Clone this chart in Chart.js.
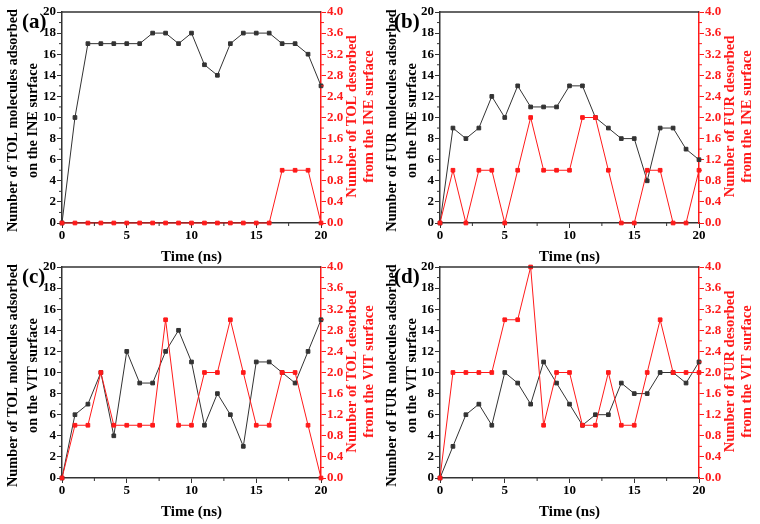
<!DOCTYPE html>
<html>
<head>
<meta charset="utf-8">
<script src="https://cdn.jsdelivr.net/npm/chart.js@4/dist/chart.umd.min.js"></script>
<style>
  html, body { margin: 0; padding: 0; background: #ffffff; }
  body { width: 760px; height: 524px; position: relative; overflow: hidden; }
  canvas { position: absolute; }
</style>
</head>
<body>
<canvas id="ca" width="380" height="266" style="left:0px;top:0px"></canvas>
<canvas id="cb" width="380" height="266" style="left:380px;top:0px"></canvas>
<canvas id="cc" width="380" height="268" style="left:0px;top:256px"></canvas>
<canvas id="cd" width="380" height="268" style="left:380px;top:256px"></canvas>
<script>
// ---- data ----
const time = [0,1,2,3,4,5,6,7,8,9,10,11,12,13,14,15,16,17,18,19,20];

const tolIneAdsorbed = [0,10,17,17,17,17,17,18,18,17,18,15,14,17,18,18,18,17,17,16,13];
const tolIneDesorbed = [0,0,0,0,0,0,0,0,0,0,0,0,0,0,0,0,0,1,1,1,0];

const furIneAdsorbed = [0,9,8,9,12,10,13,11,11,11,13,13,10,9,8,8,4,9,9,7,6];
const furIneDesorbed = [0,1,0,1,1,0,1,2,1,1,1,2,2,1,0,0,1,1,0,0,1];

const tolVitAdsorbed = [0,6,7,10,4,12,9,9,12,14,11,5,8,6,3,11,11,10,9,12,15];
const tolVitDesorbed = [0,1,1,2,1,1,1,1,3,1,1,2,2,3,2,1,1,2,2,1,0];

const furVitAdsorbed = [0,3,6,7,5,10,9,7,11,9,7,5,6,6,9,8,8,10,10,9,11];
const furVitDesorbed = [0,2,2,2,2,3,3,4,1,2,2,1,1,2,1,1,2,3,2,2,2];

const xTicks = [0,5,10,15,20];
const leftTicks = [0,2,4,6,8,10,12,14,16,18,20];
const rightTicks = [0.0,0.4,0.8,1.2,1.6,2.0,2.4,2.8,3.2,3.6,4.0];
const xTitle = 'Time (ns)';

// ---- styling ----
const DARK = '#333333';
const RED = '#ff1a1a';
const FONT = '"Liberation Serif", "Times New Roman", serif';

function pairs(xs, ys) { return xs.map((x, i) => ({ x: x, y: ys[i] })); }

function makePanel(id, cfg) {
  const annot = {
    id: 'annot',
    afterDraw(chart) {
      const ctx = chart.ctx;
      const a = chart.chartArea;
      const xs = chart.scales.x, yl = chart.scales.y, yr = chart.scales.y1;
      ctx.save();
      // top frame line
      ctx.strokeStyle = DARK;
      ctx.lineWidth = 1.5;
      ctx.beginPath();
      ctx.moveTo(a.left, a.top);
      ctx.lineTo(a.right, a.top);
      ctx.stroke();
      // minor ticks
      ctx.lineWidth = 1;
      ctx.strokeStyle = DARK;
      for (let v = 1; v < 20; v += 2) {
        const p = yl.getPixelForValue(v);
        ctx.beginPath(); ctx.moveTo(a.left - 3, p); ctx.lineTo(a.left, p); ctx.stroke();
      }
      for (let v = 2.5; v < 20; v += 5) {
        const p = xs.getPixelForValue(v);
        ctx.beginPath(); ctx.moveTo(p, a.bottom); ctx.lineTo(p, a.bottom + 3); ctx.stroke();
      }
      ctx.strokeStyle = RED;
      for (let k = 0; k < 10; k++) {
        const p = yr.getPixelForValue(0.2 + 0.4 * k);
        ctx.beginPath(); ctx.moveTo(a.right, p); ctx.lineTo(a.right + 3, p); ctx.stroke();
      }
      // left title
      ctx.textAlign = 'center';
      ctx.textBaseline = 'middle';
      ctx.font = 'bold 14.3px ' + FONT;
      ctx.fillStyle = '#000000';
      const cy = (a.top + a.bottom) / 2 + 3;
      cfg.leftTitle.forEach((t, i) => {
        ctx.save();
        ctx.translate(cfg.leftTitleX[i], cy);
        ctx.rotate(-Math.PI / 2);
        ctx.fillText(t, 0, 0);
        ctx.restore();
      });
      // right title
      ctx.fillStyle = RED;
      ctx.font = 'bold 14.6px ' + FONT;
      const cyr = (a.top + a.bottom) / 2 - 1;
      cfg.rightTitle.forEach((t, i) => {
        ctx.save();
        ctx.translate(a.right + cfg.rightTitleDX[i], cyr);
        ctx.rotate(-Math.PI / 2);
        ctx.fillText(t, 0, 0);
        ctx.restore();
      });
      // x title
      ctx.fillStyle = '#000000';
      ctx.font = 'bold 15px ' + FONT;
      ctx.fillText(xTitle, (a.left + a.right) / 2, a.bottom + 34);
      // panel label
      ctx.font = 'bold 21px ' + FONT;
      ctx.textAlign = 'left';
      ctx.textBaseline = 'alphabetic';
      ctx.fillText(cfg.label, cfg.labelX, a.top + 16);
      ctx.restore();
    }
  };

  new Chart(document.getElementById(id), {
    type: 'line',
    data: {
      datasets: [
        {
          data: pairs(time, cfg.desorbed),
          yAxisID: 'y1',
          borderColor: RED,
          backgroundColor: RED,
          pointBackgroundColor: RED,
          pointBorderColor: RED,
          borderWidth: 1,
          pointStyle: 'rect',
          pointRadius: 2.6,
          pointBorderWidth: 1,
          tension: 0,
          clip: false
        },
        {
          data: pairs(time, cfg.adsorbed),
          yAxisID: 'y',
          borderColor: DARK,
          backgroundColor: DARK,
          pointBackgroundColor: DARK,
          pointBorderColor: DARK,
          borderWidth: 1,
          pointStyle: 'rect',
          pointRadius: 2.6,
          pointBorderWidth: 1,
          tension: 0,
          clip: false
        }
      ]
    },
    options: {
      responsive: false,
      animation: false,
      devicePixelRatio: 1,
      layout: { padding: { top: cfg.T, left: 0, right: 0, bottom: 0 } },
      plugins: { legend: { display: false }, tooltip: { enabled: false } },
      scales: {
        x: {
          type: 'linear',
          min: 0, max: 20,
          afterBuildTicks(s) { s.ticks = xTicks.map(v => ({ value: v })); },
          afterFit(s) { s.height = cfg.B; },
          border: { display: true, color: DARK, width: 1.5 },
          grid: { drawOnChartArea: false, drawTicks: true, tickLength: 5, color: DARK, lineWidth: 1 },
          ticks: { color: '#000000', font: { family: FONT, size: 13, weight: 'bold' }, padding: 0, maxRotation: 0 }
        },
        y: {
          position: 'left',
          min: 0, max: 20,
          afterBuildTicks(s) { s.ticks = leftTicks.map(v => ({ value: v })); },
          afterFit(s) { s.width = cfg.L; },
          border: { display: true, color: DARK, width: 1.5 },
          grid: { drawOnChartArea: false, drawTicks: true, tickLength: 5, color: DARK, lineWidth: 1 },
          ticks: { color: '#000000', font: { family: FONT, size: 13, weight: 'bold' }, padding: 1 }
        },
        y1: {
          position: 'right',
          min: 0, max: 4,
          afterBuildTicks(s) { s.ticks = rightTicks.map(v => ({ value: v })); },
          afterFit(s) { s.width = cfg.R; },
          border: { display: true, color: RED, width: 1.5 },
          grid: { drawOnChartArea: false, drawTicks: true, tickLength: 5, color: RED, lineWidth: 1 },
          ticks: {
            color: RED, font: { family: FONT, size: 13, weight: 'bold' }, padding: 1,
            callback: v => Number(v).toFixed(1)
          }
        }
      }
    },
    plugins: [annot]
  });
}

makePanel('ca', {
  adsorbed: tolIneAdsorbed, desorbed: tolIneDesorbed,
  leftTitle: ['Number of TOL molecules adsorbed', 'on the INE surface'],
  rightTitle: ['Number of TOL desorbed', 'from the INE surface'],
  label: '(a)', labelX: 22,
  L: 62, R: 59, T: 12, B: 43,
  leftTitleX: [13, 33], rightTitleDX: [31, 48]
});
makePanel('cb', {
  adsorbed: furIneAdsorbed, desorbed: furIneDesorbed,
  leftTitle: ['Number of FUR molecules adsorbed', 'on the INE surface'],
  rightTitle: ['Number of FUR desorbed', 'from the INE surface'],
  label: '(b)', labelX: 14,
  L: 60, R: 61, T: 12, B: 43,
  leftTitleX: [12, 32], rightTitleDX: [31, 48]
});
makePanel('cc', {
  adsorbed: tolVitAdsorbed, desorbed: tolVitDesorbed,
  leftTitle: ['Number of TOL molecules adsorbed', 'on the VIT surface'],
  rightTitle: ['Number of TOL desorbed', 'from the VIT surface'],
  label: '(c)', labelX: 22,
  L: 62, R: 59, T: 11, B: 46,
  leftTitleX: [13, 33], rightTitleDX: [31, 48]
});
makePanel('cd', {
  adsorbed: furVitAdsorbed, desorbed: furVitDesorbed,
  leftTitle: ['Number of FUR molecules adsorbed', 'on the VIT surface'],
  rightTitle: ['Number of FUR desorbed', 'from the VIT surface'],
  label: '(d)', labelX: 14,
  L: 60, R: 61, T: 11, B: 46,
  leftTitleX: [12, 32], rightTitleDX: [31, 48]
});
</script>
</body>
</html>
